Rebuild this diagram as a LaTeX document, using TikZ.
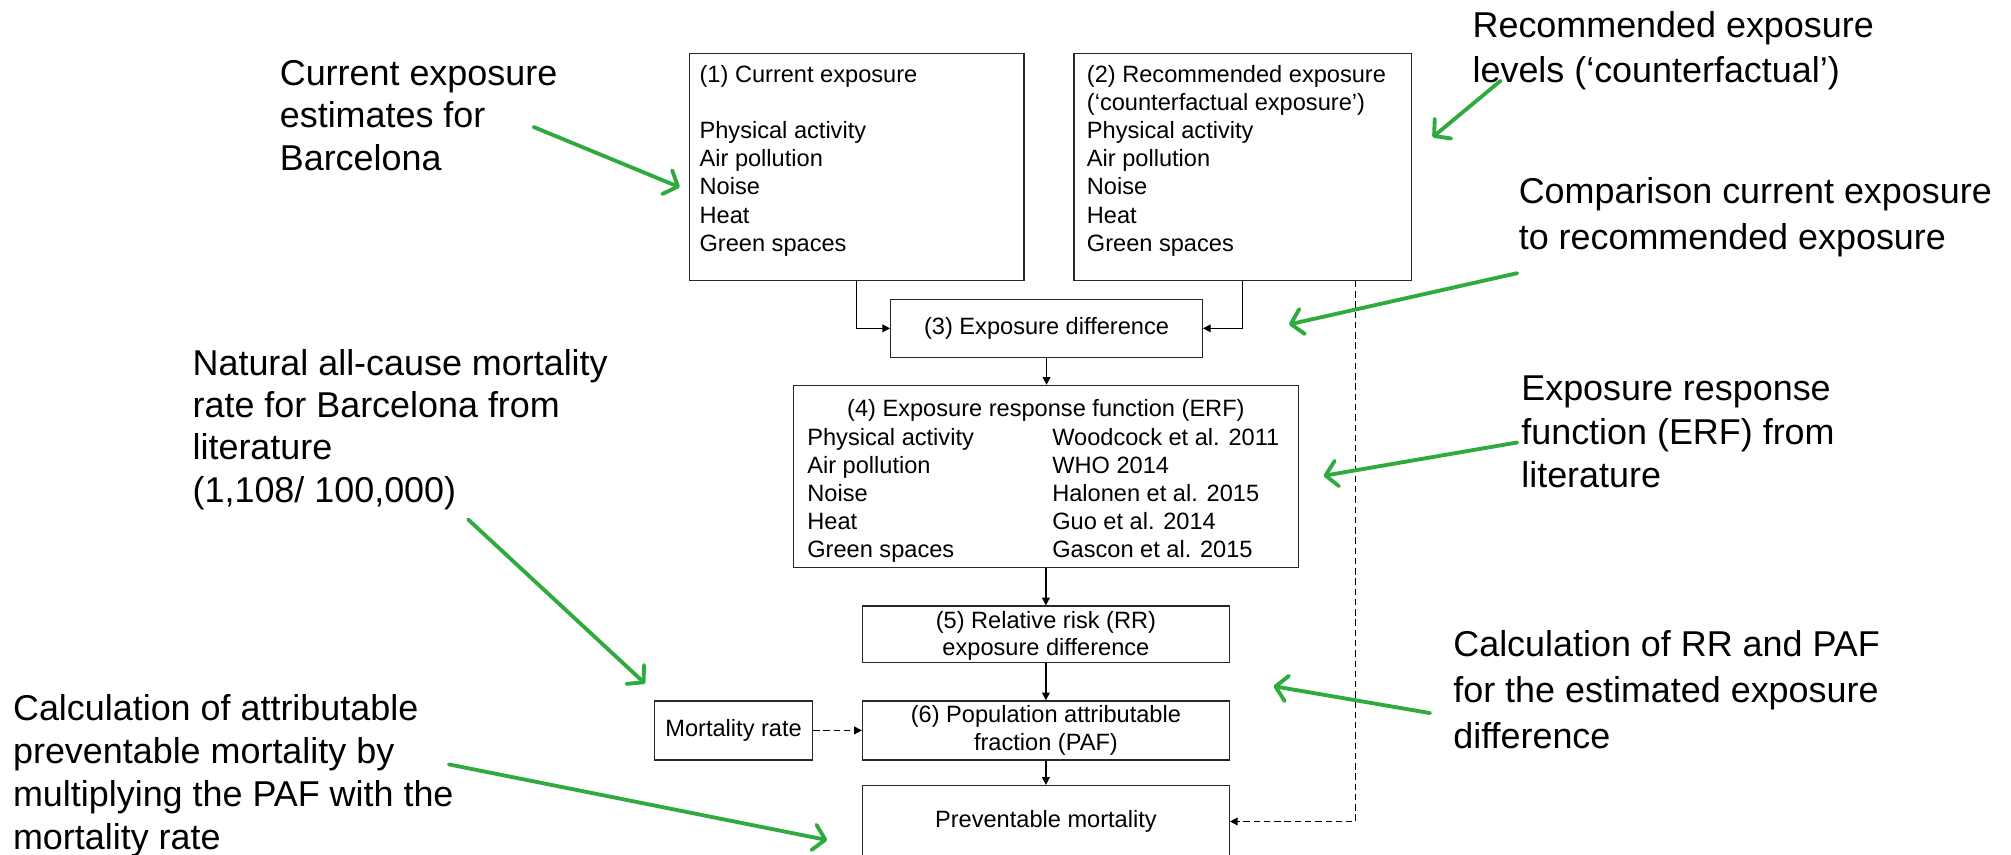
\documentclass[tikz,border=0pt]{standalone}
\usepackage{fontspec}
\setmainfont{Liberation Sans}
\usetikzlibrary{arrows.meta}
\definecolor{grn}{RGB}{46,170,62}
\definecolor{boxline}{RGB}{40,40,40}
\newcommand{\bfs}{\fontsize{18.4}{22}\selectfont}
\begin{document}
\begin{tikzpicture}[x=1pt,y=-1pt,
  box/.style={draw=boxline, line width=1pt, inner sep=0pt, anchor=north west, font=\bfs},
  ann/.style={align=left, anchor=north west, inner sep=0pt},
  conn/.style={line width=1.1pt, -{Triangle[length=6pt,width=6pt]}},
  dconn/.style={conn, dash pattern=on 5pt off 3pt},
  garrow/.style={draw=grn, line width=3pt, line cap=round, -{Straight Barb[length=9pt,width=20pt,round]}},
]
\useasboundingbox (0,0) rectangle (1568,666);

% boxes
\node[box] (b1) at (537,41) {\parbox[c][177pt][t]{261pt}{\raggedright\leftskip=8pt\rule{0pt}{22.5pt}(1) Current exposure\\ \mbox{}\\ Physical activity\\ Air pollution\\ Noise\\ Heat\\ Green spaces}};
\node[box] (b2) at (837,41) {\parbox[c][177pt][t]{263pt}{\raggedright\leftskip=10pt\rule{0pt}{22.5pt}(2) Recommended exposure\\ (‘counterfactual exposure’)\\ Physical activity\\ Air pollution\\ Noise\\ Heat\\ Green spaces}};
\node[box] (b3) at (694,233) {\parbox[c][45pt][c]{243pt}{\centering (3) Exposure difference}};
\node[box] (b4) at (618,300) {\parbox[c][142pt][t]{394pt}{\raggedright\leftskip=11pt\rule{0pt}{24.5pt}\hspace*{-11pt}\makebox[394pt][c]{(4) Exposure response function (ERF)}\\
\makebox[191pt][l]{Physical activity}Woodcock et al. 2011\\
\makebox[191pt][l]{Air pollution}WHO 2014\\
\makebox[191pt][l]{Noise}Halonen et al. 2015\\
\makebox[191pt][l]{Heat}Guo et al. 2014\\
\makebox[191pt][l]{Green spaces}Gascon et al. 2015}};
\node[box] (b5) at (672,472) {\parbox[c][44pt][c]{286pt}{\centering\fontsize{18.4}{21}\selectfont\rule{0pt}{16pt}(5) Relative risk (RR)\\ exposure difference}};
\node[box] (b6) at (672,546) {\parbox[c][46pt][c]{286pt}{\centering\fontsize{18.4}{22}\selectfont (6) Population attributable\\ fraction (PAF)}};
\node[box] (mr) at (510,546) {\parbox[c][46pt][c]{123pt}{\centering Mortality rate}};
\node[box] (pm) at (672,612) {\parbox[c][56pt][c]{286pt}{\centering Preventable mortality}};

% connectors
\draw[conn] (b1.south) |- (b3.west);
\draw[conn] (b2.south) |- (b3.east);
\draw[conn] (b3.south) -- (b3.south |- b4.north);
\draw[conn] (b4.south) -- (b4.south |- b5.north);
\draw[conn] (b5.south) -- (b5.south |- b6.north);
\draw[conn] (b6.south) -- (b6.south |- pm.north);
\draw[dconn] (mr.east) -- (b6.west);
\draw[dconn] ([xshift=-44pt]b2.south east) |- (pm.east);

% annotations
\node[ann, font=\fontsize{28}{33}\selectfont] (t1) at (218,47) {Current exposure\\ estimates for\\ Barcelona};
\node[ann, font=\fontsize{28}{35}\selectfont] (t2) at (1148,9) {Recommended exposure\\ levels (‘counterfactual’)};
\node[ann, font=\fontsize{28}{36}\selectfont] (t3) at (1184,138) {Comparison current exposure\\ to recommended exposure};
\node[ann, font=\fontsize{28}{33}\selectfont] (t4) at (150,272) {Natural all-cause mortality\\ rate for Barcelona from\\ literature\\ (1,108/ 100,000)};
\node[ann, font=\fontsize{28}{34}\selectfont] (t5) at (1186,293) {Exposure response\\ function (ERF) from\\ literature};
\node[ann, font=\fontsize{28}{36}\selectfont] (t6) at (1133,491) {Calculation of RR and PAF\\ for the estimated exposure\\ difference};
\node[ann, font=\fontsize{28}{33.5}\selectfont] (t7) at (10,541) {Calculation of attributable\\ preventable mortality by\\ multiplying the PAF with the\\ mortality rate};

% green arrows
\coordinate (a1s) at (416,99);  \coordinate (a1e) at (530,146);
\coordinate (a2s) at (1170,63); \coordinate (a2e) at (1117,107);
\coordinate (a3s) at (1183,213); \coordinate (a3e) at (1005,253);
\coordinate (a4s) at (1183,345); \coordinate (a4e) at (1032,371);
\coordinate (a5s) at (365,405); \coordinate (a5e) at (503,533);
\coordinate (a6s) at (1115,556); \coordinate (a6e) at (993,535);
\coordinate (a7s) at (350,596); \coordinate (a7e) at (645,655);
\draw[garrow] (a1s) -- (a1e);
\draw[garrow] (a2s) -- (a2e);
\draw[garrow] (a3s) -- (a3e);
\draw[garrow] (a4s) -- (a4e);
\draw[garrow] (a5s) -- (a5e);
\draw[garrow] (a6s) -- (a6e);
\draw[garrow] (a7s) -- (a7e);
\end{tikzpicture}
\end{document}
